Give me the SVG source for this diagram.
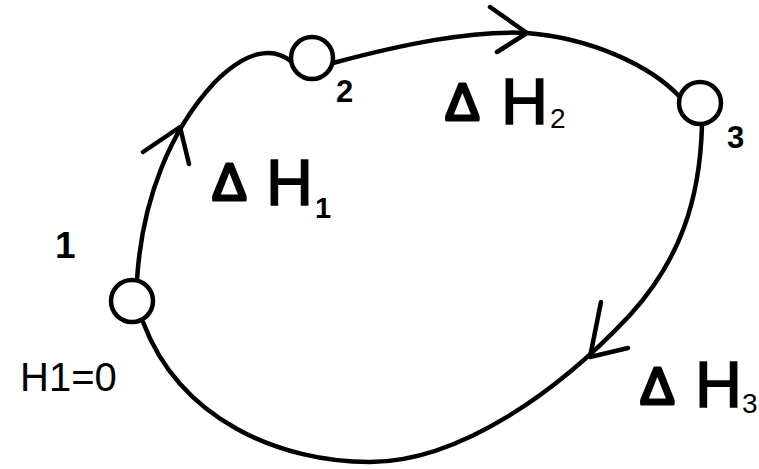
<svg xmlns="http://www.w3.org/2000/svg" width="759" height="469" viewBox="0 0 759 469">
<style>
.edge{fill:none;stroke:#000;stroke-width:4.5;stroke-linecap:round;stroke-linejoin:round}
.node{fill:#fff;stroke:#000;stroke-width:4.5}
.num{font-family:"Liberation Sans",Arial,sans-serif;font-weight:bold;font-size:31px;fill:#000}
.lbl{font-family:"Liberation Sans",Arial,sans-serif;font-size:40px;fill:#000}
.d{font-family:"Liberation Sans",Arial,sans-serif;font-size:52px;stroke:#000;stroke-width:3;stroke-linejoin:round}
.h{font-family:"Liberation Sans",Arial,sans-serif;font-size:65px;stroke:#000;stroke-width:1.6}
.s{font-family:"Liberation Sans",Arial,sans-serif;font-size:28px}
.sb{font-family:"Liberation Sans",Arial,sans-serif;font-weight:bold;font-size:29px}
</style>
<rect width="759" height="469" fill="#fff"/>
<g id="connectors">
<path class="edge" d="M137,280 C142,200 170,130 215,82 C245,52 272,45 292,62"/>
<path class="edge" d="M143,152 L180,127 L189,164"/>
<path class="edge" d="M333,63 C400,45 470,30 527,33 C590,38 650,65 680,97"/>
<path class="edge" d="M490,7 L527,33 L497,52"/>
<path class="edge" d="M702,125 C700,200 680,260 630,315 C560,390 460,462 370,462 C280,462 180,420 143,322"/>
<path class="edge" d="M601,302 L590,357 L628,348"/>
</g>
<g id="node1"><circle class="node" cx="132" cy="301" r="21"/><text class="num" x="55" y="258" style="font-size:37px">1</text></g>
<g id="node2"><circle class="node" cx="312" cy="58" r="21"/><text class="num" x="336" y="102">2</text></g>
<g id="node3"><circle class="node" cx="700" cy="103" r="21"/><text class="num" x="727" y="148">3</text></g>
<g id="label-h1"><text class="lbl" x="20" y="391">H1=0</text></g>
<g id="label-dh1"><text><tspan class="d" x="212" y="200">Δ</tspan><tspan class="h" x="266" y="205">H</tspan><tspan class="sb" x="315" y="218">1</tspan></text></g>
<g id="label-dh2"><text><tspan class="d" x="445" y="120">Δ</tspan><tspan class="h" x="501" y="124">H</tspan><tspan class="s" x="550" y="128">2</tspan></text></g>
<g id="label-dh3"><text><tspan class="d" x="640" y="404">Δ</tspan><tspan class="h" x="695" y="407">H</tspan><tspan class="s" x="742" y="413">3</tspan></text></g>
</svg>
